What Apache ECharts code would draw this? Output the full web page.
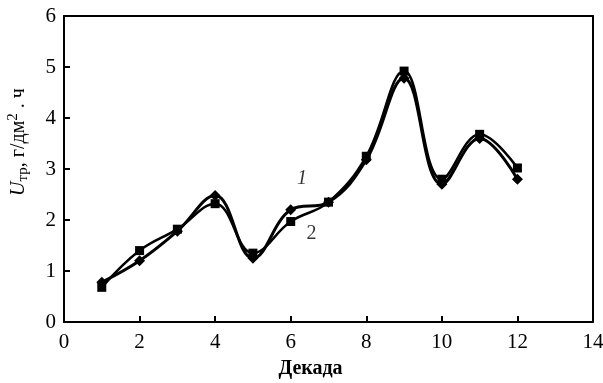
<!DOCTYPE html>
<html><head><meta charset="utf-8">
<script src="https://cdn.jsdelivr.net/npm/echarts@6/dist/echarts.min.js"></script>
<style>html,body{margin:0;padding:0;background:#fff}#c{width:603px;height:383px}</style>
</head><body><div id="c"></div>
<script>
const decades = [1,2,3,4,5,6,7,8,9,10,11,12];
const series1 = [0.78,1.2,1.78,2.48,1.25,2.2,2.35,3.18,4.78,2.7,3.6,2.8];
const series2 = [0.68,1.4,1.82,2.32,1.35,1.97,2.35,3.25,4.92,2.8,3.68,3.02];
const xTicks = [0,2,4,6,8,10,12,14];
const yTicks = [0,1,2,3,4,5,6];
const curveLabels = ['1','2'];

const chart = echarts.init(document.getElementById('c'));
const font = '"Liberation Serif","DejaVu Serif",serif';
const lbl = {color:'#000',fontFamily:font,fontSize:21};
chart.setOption({
  animation:false,
  grid:{left:64,right:10,top:16,bottom:61,containLabel:false,outerBoundsMode:'none'},
  xAxis:[{type:'value',min:0,max:14,interval:2,position:'bottom',
    name:'Декада',nameLocation:'middle',nameGap:37,
    nameTextStyle:{color:'#000',fontFamily:font,fontSize:20,fontWeight:'bold',padding:[0,36,0,0]},
    axisLine:{show:true,onZero:false,lineStyle:{color:'#000',width:2}},
    axisTick:{show:true,inside:true,length:6,lineStyle:{color:'#000',width:2}},
    splitLine:{show:false},
    axisLabel:Object.assign({margin:10},lbl)},
   {type:'value',min:0,max:14,interval:2,position:'top',
    axisLine:{show:true,onZero:false,lineStyle:{color:'#000',width:2}},
    axisTick:{show:false},axisLabel:{show:false},splitLine:{show:false}}],
  yAxis:[{type:'value',min:0,max:6,interval:1,position:'left',
    name:'{i|U}{sub|тр}{n|, г/дм}{sup|2}{n| . ч}',nameLocation:'middle',nameGap:33,nameRotate:90,
    nameTextStyle:{color:'#000',fontFamily:font,fontSize:20,padding:[0,0,0,54],
      rich:{
        i:{fontFamily:font,fontSize:20,fontStyle:'italic',color:'#000'},
        sub:{fontFamily:font,fontSize:15,color:'#000',padding:[10,0,0,0]},
        n:{fontFamily:font,fontSize:20,color:'#000'},
        sup:{fontFamily:font,fontSize:15,color:'#000',padding:[0,0,10,0]}
      }},
    axisLine:{show:true,onZero:false,lineStyle:{color:'#000',width:2}},
    axisTick:{show:true,inside:true,length:6,lineStyle:{color:'#000',width:2}},
    splitLine:{show:false},
    axisLabel:Object.assign({margin:8},lbl)},
   {type:'value',min:0,max:6,interval:1,position:'right',
    axisLine:{show:true,onZero:false,lineStyle:{color:'#000',width:2}},
    axisTick:{show:false},axisLabel:{show:false},splitLine:{show:false}}],
  series:[
    {type:'line',smooth:0.4,data:decades.map((d,i)=>[d,series1[i]]),
     symbol:'diamond',symbolSize:11,itemStyle:{color:'#000'},
     lineStyle:{color:'#000',width:3}},
    {type:'line',smooth:0.4,data:decades.map((d,i)=>[d,series2[i]]),
     symbol:'rect',symbolSize:9,itemStyle:{color:'#000'},
     lineStyle:{color:'#000',width:2.5}},
    {type:'scatter',symbolSize:0,silent:true,
     data:[
       {value:[6.3,2.8],label:{fontStyle:'italic'}},
       {value:[6.55,1.73]}
     ],
     label:{show:true,position:'inside',color:'#000',fontFamily:font,fontSize:20,
       formatter:p=>curveLabels[p.dataIndex]}}
  ]
});
</script></body></html>
